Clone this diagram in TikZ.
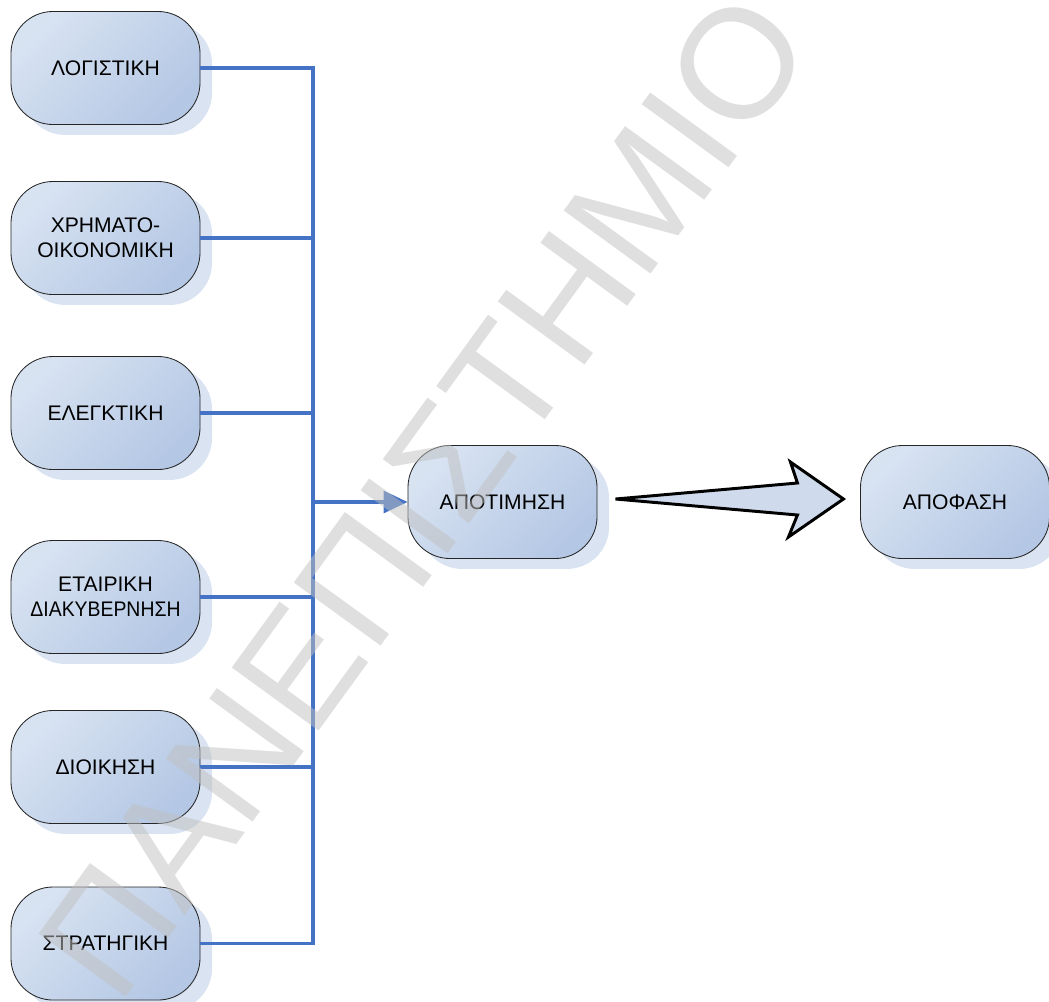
\documentclass[tikz,border=0pt]{standalone}
\usepackage{fontspec}
\usepackage{graphicx}
\setmainfont{Liberation Sans}
\usetikzlibrary{calc, positioning, shadows, arrows.meta}

\definecolor{linkblue}{RGB}{68,114,196}
\definecolor{boxlight}{RGB}{216,227,242}
\definecolor{boxdark}{RGB}{180,199,228}
\definecolor{boxshadow}{RGB}{218,227,241}
\definecolor{arrowfill}{RGB}{207,219,237}
\definecolor{markgray}{RGB}{192,192,192}

\begin{document}
\begin{tikzpicture}[x=0.025cm, y=-0.025cm,
    stage/.style={rounded corners=1.05cm, draw=black!85, line width=0.6pt,
      top color=boxlight, bottom color=boxdark, shading angle=45,
      minimum width=4.725cm, minimum height=2.825cm, inner sep=0pt,
      align=center, font=\fontsize{15}{17.8}\selectfont,
      drop shadow={shadow xshift=0.3cm, shadow yshift=-0.26cm,
        fill=boxshadow, opacity=1, draw=none}},
    link/.style={draw=linkblue, line width=2.2pt},
    bigarrow/.style={draw=black, line width=2.1pt, fill=arrowfill},
    watermark/.style={text=markgray, text opacity=0.5, inner sep=0pt,
      font=\fontsize{111}{112}\selectfont}]

        % page frame
        \useasboundingbox (0,0) rectangle (1049,1001);
        \clip (0,0) rectangle (1049,1001);

        % the six fields on the left
        \node[stage] (logist) at (105.5,68) {ΛΟΓΙΣΤΙΚΗ};
        \node[stage] (finance) at (105.5,238) {ΧΡΗΜΑΤΟ-\\ΟΙΚΟΝΟΜΙΚΗ};
        \node[stage] (audit) at (105.5,413) {ΕΛΕΓΚΤΙΚΗ};
        \node[stage] (govern) at (105.5,597) {ΕΤΑΙΡΙΚΗ\\\scalebox{0.92}[1]{ΔΙΑΚΥΒΕΡΝΗΣΗ}};
        \node[stage] (admin) at (105.5,767) {ΔΙΟΙΚΗΣΗ};
        \node[stage] (strat) at (105.5,943.5) {ΣΤΡΑΤΗΓΙΚΗ};

        % valuation and decision
        \node[stage] (apot) at (502.5,502) {ΑΠΟΤΙΜΗΣΗ};
        \node[stage] (apof) at (955,502) {ΑΠΟΦΑΣΗ};

        % the collecting bus
        \coordinate (bus) at (313,0);
        \draw[link] (logist.east) -| (strat.east -| bus) -- (strat.east);
        \foreach \n in {finance, audit, govern, admin}
            \draw[link] (\n.east) -- (\n.east -| bus);
        \draw[link, -{Triangle[length=0.6cm, width=0.55cm]}]
            (apot.west -| bus) -- (apot.west);

        % wide arrow to the decision
        \draw[bigarrow] ($(apot.east)+(18,-3)$) coordinate (tail)
            -- +(182,-16) -- +(175,-37) -- +(228,0)
            -- +(173,38) -- +(182,16) -- cycle;

        % watermark across the page
        \node[watermark, rotate=54, anchor=base west] (mark) at (118,1008)
            {ΠΑΝΕΠΙΣΤΗΜΙΟ ΠΕΙΡΑΙΩΣ};
\end{tikzpicture}
\end{document}
